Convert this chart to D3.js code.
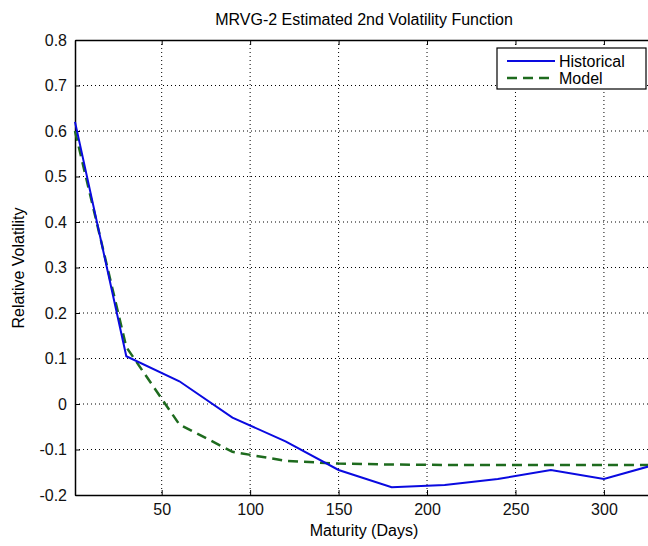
<!DOCTYPE html>
<html>
<head>
<meta charset="utf-8">
<script src="https://cdn.jsdelivr.net/npm/d3@7"></script>
<style>
  body { margin: 0; background: #fff; }
</style>
</head>
<body>
<script>
let days = [1, 30, 60, 90, 120, 150, 180, 210, 240, 270, 300, 330];
let historical = [0.62, 0.105, 0.05, -0.03, -0.082, -0.145, -0.183, -0.178, -0.165, -0.145, -0.165, -0.132];
let model = [0.6, 0.125, -0.045, -0.105, -0.125, -0.131, -0.133, -0.134, -0.134, -0.134, -0.134, -0.134];
let xTicks = [50, 100, 150, 200, 250, 300];
let yTicks = [-0.2, -0.1, 0, 0.1, 0.2, 0.3, 0.4, 0.5, 0.6, 0.7, 0.8];

let width = 648;
let height = 546;
let margins = { top: 40, bottom: 51, left: 75, right: -9 };
let font = '"Liberation Sans", Arial, sans-serif';
let fontSize = 16;

let xScale = d3.scaleLinear([1, 330], [margins.left, width - margins.right]);
let yScale = d3.scaleLinear([-0.2, 0.8], [height - margins.bottom, margins.top]);

let svg = d3.create('svg')
  .attr('width', width)
  .attr('height', height)
  .style('display', 'block');

// grid
svg.append('g')
  .selectAll('line')
  .data(xTicks)
  .join('line')
  .attr('x1', d => xScale(d)).attr('x2', d => xScale(d))
  .attr('y1', margins.top).attr('y2', height - margins.bottom)
  .attr('stroke', '#000')
  .attr('stroke-width', 1)
  .attr('stroke-dasharray', '1,3');

svg.append('g')
  .selectAll('line')
  .data(yTicks.slice(1, -1))
  .join('line')
  .attr('x1', margins.left).attr('x2', width - margins.right)
  .attr('y1', d => yScale(d)).attr('y2', d => yScale(d))
  .attr('stroke', '#000')
  .attr('stroke-width', 1)
  .attr('stroke-dasharray', '1,3');

// axes
let xAxis = d3.axisBottom(xScale).tickValues(xTicks).tickSizeInner(-5).tickSizeOuter(0).tickPadding(9);
let yAxis = d3.axisLeft(yScale).tickValues(yTicks).tickSizeInner(-5).tickSizeOuter(0).tickPadding(8)
  .tickFormat(d => d === 0 ? '0' : d3.format('.1f')(d).replace('\u2212', '-'));

svg.append('g')
  .attr('transform', `translate(0,${height - margins.bottom})`)
  .call(xAxis)
  .call(g => g.select('.domain').attr('stroke-width', 1.5))
  .selectAll('text')
  .attr('font-family', font)
  .attr('font-size', fontSize)
  .attr('fill', '#111');

svg.append('g')
  .attr('transform', `translate(${margins.left},0)`)
  .call(yAxis)
  .call(g => g.select('.domain').attr('stroke-width', 1.5))
  .selectAll('text')
  .attr('font-family', font)
  .attr('font-size', fontSize)
  .attr('fill', '#111');

// top box line with ticks
svg.append('g')
  .attr('transform', `translate(0,${margins.top})`)
  .call(d3.axisTop(xScale).tickValues(xTicks).tickSizeInner(-5).tickSizeOuter(0).tickFormat(''))
  .call(g => g.select('.domain').attr('stroke-width', 1.5));

// lines
let line = d3.line()
  .x((d, i) => xScale(days[i]))
  .y(d => yScale(d));

svg.append('path')
  .datum(model)
  .attr('d', line)
  .attr('fill', 'none')
  .attr('stroke', '#1e6b1e')
  .attr('stroke-width', 2.5)
  .attr('stroke-dasharray', '10,6');

svg.append('path')
  .datum(historical)
  .attr('d', line)
  .attr('fill', 'none')
  .attr('stroke', '#0a0ae0')
  .attr('stroke-width', 2);

// legend
let lg = svg.append('g').attr('transform', 'translate(497,48)');
lg.append('rect')
  .attr('width', 149).attr('height', 41)
  .attr('fill', '#fff').attr('stroke', '#000').attr('stroke-width', 1.2);
lg.append('line').attr('x1', 10).attr('x2', 58).attr('y1', 13).attr('y2', 13)
  .attr('stroke', '#0a0ae0').attr('stroke-width', 2);
lg.append('line').attr('x1', 10).attr('x2', 58).attr('y1', 30).attr('y2', 30)
  .attr('stroke', '#1e6b1e').attr('stroke-width', 2.5).attr('stroke-dasharray', '10,6');
lg.append('text').text('Historical').attr('x', 62).attr('y', 19)
  .attr('font-family', font).attr('font-size', fontSize);
lg.append('text').text('Model').attr('x', 62).attr('y', 36)
  .attr('font-family', font).attr('font-size', fontSize);

// title and labels
svg.append('text')
  .text('MRVG-2 Estimated 2nd Volatility Function')
  .attr('x', 364).attr('y', 25)
  .attr('text-anchor', 'middle')
  .attr('font-family', font).attr('font-size', fontSize);

svg.append('text')
  .text('Maturity (Days)')
  .attr('x', 364).attr('y', 536)
  .attr('text-anchor', 'middle')
  .attr('font-family', font).attr('font-size', fontSize);

svg.append('text')
  .text('Relative Volatility')
  .attr('transform', 'rotate(-90)')
  .attr('x', -268).attr('y', 24)
  .attr('text-anchor', 'middle')
  .attr('font-family', font).attr('font-size', fontSize);

document.body.append(svg.node());
</script>
</body>
</html>
